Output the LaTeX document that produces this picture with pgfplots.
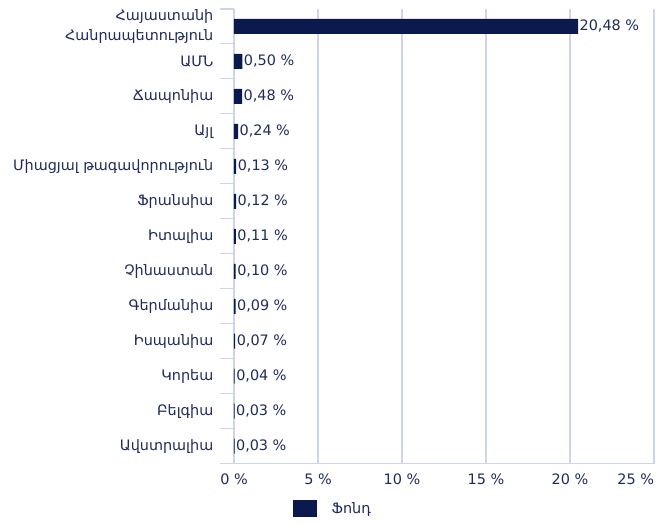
\documentclass[border=0pt]{standalone}
\usepackage{fontspec}
\setmainfont{DejaVu Sans}
\usepackage{pgfplots}
\pgfplotsset{compat=1.18}
\definecolor{barc}{HTML}{0B1A4E}
\definecolor{txtc}{HTML}{1F2B5B}
\definecolor{gridc}{HTML}{CCD6E6}
\begin{document}
\begin{tikzpicture}
\useasboundingbox (-175.5pt,-45pt) rectangle (328.5pt,347.75pt);
\begin{axis}[
  at={(0,0)}, anchor=south west, scale only axis, width=315pt, height=341pt,
  xmin=0, xmax=25, ymin=-0.5, ymax=12.5,
  xbar, bar width=11.25pt, bar shift=0pt,
  xtick={0,5,...,25}, xticklabels={0 \%,5 \%,10 \%,15 \%,20 \%,{\makebox[0pt][r]{25 \%}}},
  ytick={0,...,12},
  yticklabels={Ավստրալիա, Բելգիա, Կորեա, Իսպանիա, Գերմանիա, Չինաստան, Իտալիա, Ֆրանսիա, Միացյալ թագավորություն, Այլ, Ճապոնիա, ԱՄՆ, {Հայաստանի\\Հանրապետություն}},
  major tick length=0pt,
  xmajorgrids, major grid style={gridc, line width=0.8pt},
  axis x line*=bottom, axis y line*=left,
  axis line style={gridc, line width=0.8pt},
  extra y ticks={-0.5,0.5,...,12.5}, extra y tick labels={},
  extra y tick style={major tick length=10.5pt, tick align=outside, tick style={gridc, line width=0.8pt}, grid=none},
  tick label style={font=\fontsize{10.8}{15}\selectfont, text=txtc},
  yticklabel style={align=right, xshift=-12pt},
  xticklabel style={yshift=-4pt},
  nodes near coords, point meta=explicit symbolic,
  nodes near coords style={anchor=west, font=\fontsize{10.8}{12}\selectfont, text=txtc, inner xsep=1pt},
  legend style={at={(0.14,-0.099)}, anchor=west, draw=none, font=\fontsize{10.8}{12}\selectfont, text=txtc, inner sep=0pt},
  legend image code/.code={\fill[#1] (0pt,-6.5pt) rectangle (18pt,6.5pt);},
]
\addplot[fill=barc, draw=none] table[meta=lab, header=true] {
x y lab
0.03 0 {0,03 \%}
0.03 1 {0,03 \%}
0.04 2 {0,04 \%}
0.07 3 {0,07 \%}
0.09 4 {0,09 \%}
0.10 5 {0,10 \%}
0.11 6 {0,11 \%}
0.12 7 {0,12 \%}
0.13 8 {0,13 \%}
0.24 9 {0,24 \%}
0.48 10 {0,48 \%}
0.50 11 {0,50 \%}
20.48 12 {20,48 \%}
};
\addlegendentry{\hspace{9pt}Ֆոնդ}
\end{axis}
\end{tikzpicture}
\end{document}
